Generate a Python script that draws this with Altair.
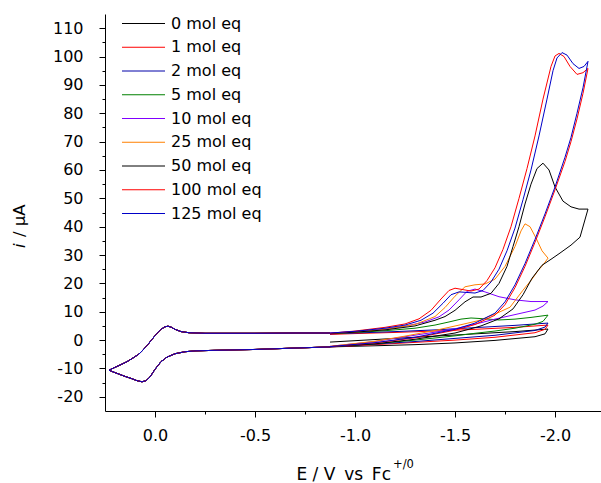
import altair as alt
import pandas as pd

# ---------------- data ----------------
labels = ["0 mol eq", "1 mol eq", "2 mol eq", "5 mol eq", "10 mol eq",
          "25 mol eq", "50 mol eq", "100 mol eq", "125 mol eq"]
colors = ["#000000", "#ff0000", "#0000a8", "#008000", "#8000ff",
          "#ff8000", "#000000", "#ff0000", "#0000c8"]

# shared part of every scan (ferrocene wave): return branch -0.875 V -> +0.23 V
common_lower_E = [-0.875, -0.7, -0.5, -0.3, -0.2, -0.15, -0.1, -0.06, -0.03, 0.0,
                  0.025, 0.045, 0.065, 0.09, 0.12, 0.15, 0.18, 0.21, 0.23]
common_lower_i = [-2.4, -2.8, -3.3, -3.6, -3.8, -4.1, -4.8, -6.0, -7.6, -10.3,
                  -13.0, -14.3, -14.7, -14.3, -13.5, -12.8, -12.0, -11.2, -10.6]
# then +0.23 V -> -0.875 V
common_upper_E = [0.23, 0.2, 0.175, 0.14, 0.11, 0.08, 0.06, 0.035, 0.01, -0.01,
                  -0.03, -0.05, -0.065, -0.08, -0.1, -0.13, -0.17, -0.25, -0.5,
                  -0.7, -0.875]
common_upper_i = [-10.6, -9.6, -8.8, -7.6, -6.3, -4.9, -3.5, -1.5, 0.7, 2.4,
                  3.8, 4.7, 4.9, 4.6, 3.8, 3.0, 2.6, 2.4, 2.4, 2.5, 2.5]

# series-specific part: -0.875 V -> vertex -> -0.875 V
e_0 = [-0.875, -1.0, -1.2, -1.4, -1.6, -1.8, -1.965,
       -1.95, -1.9, -1.7, -1.5, -1.3, -1.1, -0.875]
i_0 = [-0.7, -0.2, 0.6, 1.4, 2.2, 3.0, 3.9,
       2.2, 1.2, -0.1, -1.0, -1.6, -2.0, -2.4]

e_1 = [-0.875, -1.0, -1.2, -1.4, -1.6, -1.8, -1.965,
       -1.95, -1.9, -1.7, -1.5, -1.3, -1.1, -0.875]
i_1 = [2.0, 2.3, 2.7, 3.2, 3.8, 4.5, 5.3,
       3.8, 2.6, 1.0, 0.0, -0.8, -1.6, -2.4]

e_2 = [-0.875, -1.0, -1.2, -1.4, -1.6, -1.8, -1.965,
       -1.95, -1.9, -1.7, -1.5, -1.3, -1.1, -0.875]
i_2 = [2.2, 2.5, 3.0, 3.6, 4.4, 5.2, 6.0,
       4.6, 3.4, 1.7, 0.6, -0.5, -1.4, -2.4]

e_5 = [-0.875, -1.0, -1.15, -1.3, -1.4, -1.47, -1.53, -1.58, -1.65, -1.72, -1.8,
       -1.88, -1.965,
       -1.94, -1.9, -1.8, -1.7, -1.6, -1.5, -1.3, -1.1, -0.875]
i_5 = [2.3, 2.7, 3.3, 4.2, 5.3, 6.4, 7.4, 7.8, 7.5, 7.1, 7.4, 8.0, 8.8,
       6.6, 5.6, 4.2, 3.2, 2.4, 1.5, 0.0, -1.3, -2.3]

e_10 = [-0.875, -1.0, -1.15, -1.25, -1.35, -1.42, -1.47, -1.52, -1.56, -1.6,
        -1.65, -1.72, -1.8, -1.88, -1.965,
        -1.94, -1.9, -1.8, -1.7, -1.6, -1.5, -1.4, -1.25, -1.1, -0.875]
i_10 = [2.5, 3.0, 3.9, 4.9, 6.4, 8.2, 10.6, 14.2, 17.2, 18.0,
        17.0, 15.3, 14.2, 13.6, 13.6,
        12.0, 10.6, 9.0, 7.4, 5.6, 4.0, 2.8, 1.2, -0.5, -2.2]

e_25 = [-0.875, -1.0, -1.15, -1.3, -1.4, -1.45, -1.5, -1.55, -1.6, -1.65, -1.7,
        -1.75, -1.8, -1.83, -1.85, -1.875, -1.905, -1.935, -1.965,
        -1.94, -1.915, -1.885, -1.84, -1.775, -1.71, -1.625, -1.54, -1.4,
        -1.25, -1.1, -0.875]
i_25 = [2.3, 2.8, 3.8, 5.5, 8.3, 11.5, 15.5, 18.8, 19.5, 19.8, 21.5,
        26.0, 33.0, 38.5, 41.0, 40.0, 36.0, 31.5, 28.9,
        26.5, 24.5, 21.5, 17.6, 11.6, 9.5, 7.0, 5.6, 3.4,
        1.4, -0.4, -2.2]

e_50 = [-0.875, -1.0, -1.15, -1.3, -1.4, -1.45, -1.5, -1.55, -1.59, -1.63,
        -1.68, -1.72, -1.76, -1.79, -1.82, -1.85, -1.88, -1.91, -1.94, -1.97,
        -2.0, -2.04, -2.08, -2.12, -2.165,
        -2.125, -2.08, -2.025, -1.98, -1.935, -1.885, -1.84, -1.79, -1.72,
        -1.63, -1.5, -1.3, -1.1, -0.875]
i_50 = [2.3, 2.8, 3.6, 5.0, 7.0, 8.3, 10.5, 13.5, 15.2, 15.2,
        16.5, 20.0, 26.0, 33.0, 40.0, 48.0, 55.0, 60.5, 62.4, 60.0,
        54.0, 49.0, 47.0, 46.2, 46.2,
        36.3, 33.5, 30.7, 28.5, 26.4, 21.8, 16.0, 11.0, 7.5,
        5.0, 2.5, 0.3, -1.3, -2.3]

e_100 = [-0.875, -1.0, -1.15, -1.25, -1.32, -1.38, -1.43, -1.47, -1.5, -1.54,
         -1.58, -1.62, -1.66, -1.7, -1.74, -1.78, -1.82, -1.86, -1.9, -1.94,
         -1.98, -2.0, -2.02, -2.045, -2.075, -2.11, -2.14, -2.165,
         -2.14, -2.11, -2.08, -2.05, -2.0, -1.95, -1.9, -1.85, -1.8, -1.75,
         -1.7, -1.6, -1.5, -1.3, -1.1, -0.875]
i_100 = [2.4, 3.2, 4.5, 5.7, 7.5, 10.5, 14.5, 17.5, 18.3, 17.8,
         17.3, 18.0, 21.0, 25.5, 32.0, 40.0, 50.0, 60.5, 72.0, 85.0,
         96.5, 100.2, 101.1, 100.0, 96.5, 93.7, 94.3, 95.8,
         87.0, 78.0, 70.0, 63.0, 53.0, 43.5, 34.5, 26.0, 18.5, 12.5,
         8.8, 5.5, 3.5, 0.8, -1.0, -2.3]

e_125 = [-0.875, -1.0, -1.15, -1.25, -1.33, -1.39, -1.44, -1.48, -1.52, -1.56,
         -1.6, -1.64, -1.68, -1.72, -1.76, -1.8, -1.84, -1.88, -1.92, -1.96,
         -1.99, -2.01, -2.035, -2.06, -2.09, -2.12, -2.145, -2.165,
         -2.14, -2.11, -2.08, -2.05, -2.0, -1.95, -1.9, -1.85, -1.8, -1.75,
         -1.7, -1.6, -1.5, -1.3, -1.1, -0.875]
i_125 = [2.5, 3.1, 4.2, 5.3, 7.0, 9.5, 13.0, 16.0, 17.0, 16.8,
         16.6, 17.5, 20.5, 25.0, 31.5, 39.5, 49.5, 60.0, 72.0, 85.0,
         95.0, 99.5, 101.4, 100.5, 97.5, 95.8, 96.5, 98.3,
         89.0, 80.0, 71.5, 64.5, 54.0, 44.5, 35.5, 27.0, 19.5, 13.5,
         9.5, 6.0, 3.8, 1.0, -0.9, -2.3]

x_major = [0.0, -0.5, -1.0, -1.5, -2.0]
x_minor = [-0.25, -0.75, -1.25, -1.75]
y_major = list(range(-20, 111, 10))
y_minor = list(range(-15, 111, 10))

# ---------------- table ----------------
series_parts = [(e_0, i_0), (e_1, i_1), (e_2, i_2), (e_5, i_5), (e_10, i_10),
                (e_25, i_25), (e_50, i_50), (e_100, i_100), (e_125, i_125)]
rows = []
for lab, (es, is_) in zip(labels, series_parts):
    E_all = es + common_lower_E + common_upper_E
    I_all = is_ + common_lower_i + common_upper_i
    for k, (e, c) in enumerate(zip(E_all, I_all)):
        rows.append({"E": e, "i": c, "series": lab, "idx": k})
df = pd.DataFrame(rows)
legend_df = pd.DataFrame({"series": labels, "k": list(range(len(labels)))})

FONT = "DejaVu Sans"
minus_fix = "replace(datum.label, '\u2212', '-')"

x_scale = alt.Scale(domain=[-2.23, 0.25], reverse=True, nice=False, zero=False)
y_scale = alt.Scale(domain=[-25, 115], nice=False, zero=False)
color_scale = alt.Scale(domain=labels, range=colors)

lines = alt.Chart(df).mark_line(strokeWidth=1, clip=True).encode(
    x=alt.X("E:Q", scale=x_scale,
            axis=alt.Axis(values=x_major, format=".1f", labelExpr=minus_fix,
                          title=None, orient="bottom", grid=False,
                          tickSize=6, labelPadding=10, labelFontSize=16,
                          labelFont=FONT, labelColor="black",
                          domainColor="black", tickColor="black",
                          labelFlush=False, labelOverlap=False)),
    y=alt.Y("i:Q", scale=y_scale,
            axis=alt.Axis(values=y_major, format="d", labelExpr=minus_fix,
                          title=None, orient="left", grid=False,
                          tickSize=6, labelPadding=16, labelFontSize=16,
                          labelFont=FONT, labelColor="black",
                          domainColor="black", tickColor="black",
                          labelFlush=False, labelOverlap=False)),
    color=alt.Color("series:N", sort=labels, scale=color_scale, legend=None),
    order=alt.Order("idx:Q"),
)

minor = alt.Chart(df).mark_point(opacity=0).encode(
    x=alt.X("E:Q", scale=x_scale,
            axis=alt.Axis(values=x_minor, labels=False, domain=False,
                          title=None, orient="bottom", grid=False,
                          tickSize=3, tickColor="black")),
    y=alt.Y("i:Q", scale=y_scale,
            axis=alt.Axis(values=y_minor, labels=False, domain=False,
                          title=None, orient="left", grid=False,
                          tickSize=3, tickColor="black")),
)

# legend drawn as rules + text (one row per series)
leg_base = alt.Chart(legend_df).transform_calculate(
    py="9.5 + 23.75 * datum.k"
)
leg_lines = leg_base.mark_rule(strokeWidth=1).encode(
    x=alt.value(17), x2=alt.value(60),
    y=alt.Y("py:Q", scale=None),
    color=alt.Color("series:N", sort=labels, scale=color_scale, legend=None),
)
leg_text = leg_base.mark_text(
    align="left", baseline="middle", fontSize=16, font=FONT, color="black"
).encode(
    x=alt.value(66),
    y=alt.Y("py:Q", scale=None),
    text="series:N",
)

xtitle_main = alt.Chart(pd.DataFrame({"t": ["E / V\u2009 vs\u2009 Fc"]})).mark_text(
    align="right", baseline="alphabetic", fontSize=17, font=FONT, color="black"
).encode(x=alt.value(286), y=alt.value(466), text="t:N")

xtitle_sup = alt.Chart(pd.DataFrame({"t": ["+/0"]})).mark_text(
    align="left", baseline="alphabetic", fontSize=11.5, font=FONT, color="black"
).encode(x=alt.value(288), y=alt.value(454), text="t:N")

ytitle_i = alt.Chart(pd.DataFrame({"t": ["i"]})).mark_text(
    align="left", baseline="alphabetic", angle=270, fontSize=16.5,
    font=FONT, fontStyle="italic", color="black"
).encode(x=alt.value(-80), y=alt.value(234), text="t:N")

ytitle_rest = alt.Chart(pd.DataFrame({"t": ["/ \u00b5A"]})).mark_text(
    align="left", baseline="alphabetic", angle=270, fontSize=16.5,
    font=FONT, color="black"
).encode(x=alt.value(-80), y=alt.value(223), text="t:N")

chart = alt.layer(
    lines, minor, leg_lines, leg_text,
    xtitle_main, xtitle_sup, ytitle_i, ytitle_rest
).resolve_axis(
    x="independent", y="independent"
).properties(
    width=496, height=397,
    padding={"left": 105, "top": 14, "right": 0, "bottom": 72},
    autosize=alt.AutoSizeParams(type="none"),
).configure_view(stroke=None)

chart.save("out.html", embed_options={"renderer": "svg", "actions": False})
